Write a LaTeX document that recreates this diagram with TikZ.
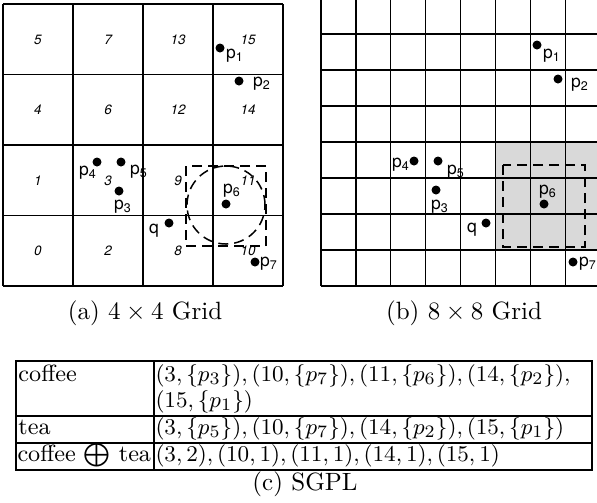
\documentclass[tikz,border=0pt]{standalone}
\usepackage{amsmath,amssymb}
\usepackage{fontspec}
\newfontfamily\helv{TeX Gyre Heros}
\usetikzlibrary{positioning}

\tikzset{
  cellno/.style={font=\helv\fontsize{5.4}{6}\selectfont\itshape,inner sep=0pt},
  ptlab/.style={font=\helv\fontsize{7}{8}\selectfont,inner sep=0pt},
  ptdot/.style={fill,circle,inner sep=0pt,minimum size=3.6pt},
  qbox/.style={dash pattern=on 4pt off 2.4pt,line width=0.6pt},
  txt/.style={inner sep=0pt,anchor=base west,font=\fontsize{9.4}{11}\selectfont}
}

\begin{document}
\begin{tikzpicture}[x=0.4pt,y=-0.4pt]
\useasboundingbox (0,0) rectangle (597,502);

% (a) 4x4 grid
\foreach \i in {0,...,4}{
  \draw[line width=0.7pt] ({3+70*\i},4) -- ({3+70*\i},286);
  \draw[line width=0.7pt] (3,{4+70.5*\i}) -- (283,{4+70.5*\i});
}
\foreach \n/\c/\r in {5/0/0,7/1/0,13/2/0,15/3/0,4/0/1,6/1/1,12/2/1,14/3/1,
                      1/0/2,3/1/2,9/2/2,11/3/2,0/0/3,2/1/3,8/2/3,10/3/3}
  \node[cellno] (c\n) at ({38+70*\c},{39.5+70.5*\r}) {\n};

\draw[qbox] (186,166) rectangle (266,246);
\draw[qbox] (226,205) circle[radius=15.6pt];

\node[ptdot] (a1) at (220,48) {};  \node[ptlab] (la1) at (235,56) {p\textsubscript{1}};
\node[ptdot] (a2) at (239,81) {};  \node[ptlab] (la2) at (262,84) {p\textsubscript{2}};
\node[ptdot] (a3) at (119,191) {}; \node[ptlab] (la3) at (123,207) {p\textsubscript{3}};
\node[ptdot] (a4) at (97,162) {};  \node[ptlab] (la4) at (88,173) {p\textsubscript{4}};
\node[ptdot] (a5) at (121,162) {}; \node[ptlab] (la5) at (139,172) {p\textsubscript{5}};
\node[ptdot] (a6) at (226,204) {}; \node[ptlab] (la6) at (232,191) {p\textsubscript{6}};
\node[ptdot] (a7) at (255,262) {}; \node[ptlab] (la7) at (269,264) {p\textsubscript{7}};
\node[ptdot] (aq) at (169,223) {}; \node[ptlab] (laq) at (154,231) {q};

\node (capa) at (145,313) {(a) $4\times4$ Grid};

% (b) 8x8 grid
\fill[black!15] (495.5,142) rectangle (600.2,250);
\foreach \i in {0,...,8}{
  \draw[line width=0.5pt] ({321+34.9*\i},-2) -- ({321+34.9*\i},286);
  \draw[line width=0.5pt] (321,{-2+36*\i}) -- (600.2,{-2+36*\i});
}
\draw[qbox] (503,165) rectangle (585,247);

\node[ptdot] (b1) at (537,45) {};  \node[ptlab] (lb1) at (552,56) {p\textsubscript{1}};
\node[ptdot] (b2) at (558,79) {};  \node[ptlab] (lb2) at (580,85) {p\textsubscript{2}};
\node[ptdot] (b3) at (436,190) {}; \node[ptlab] (lb3) at (440,207) {p\textsubscript{3}};
\node[ptdot] (b4) at (414,161) {}; \node[ptlab] (lb4) at (401,165) {p\textsubscript{4}};
\node[ptdot] (b5) at (438,161) {}; \node[ptlab] (lb5) at (456,172) {p\textsubscript{5}};
\node[ptdot] (b6) at (544,204) {}; \node[ptlab] (lb6) at (548,192) {p\textsubscript{6}};
\node[ptdot] (b7) at (573,262) {}; \node[ptlab] (lb7) at (588,264) {p\textsubscript{7}};
\node[ptdot] (bq) at (486,223) {}; \node[ptlab] (lbq) at (472,230) {q};

\node (capb) at (464,313) {(b) $8\times8$ Grid};

% (c) SGPL table
\draw[line width=0.5pt] (16,361) rectangle (592,470);
\draw[line width=0.5pt] (16,416) -- (592,416) (16,443) -- (592,443);
\draw[line width=0.5pt] (154,361) -- (154,470);
\node[txt] (k1) at (18,381) {coffee};
\node[txt] (v1) at (155,381) {$(3,\{p_3\}),(10,\{p_7\}),(11,\{p_6\}),(14,\{p_2\}),$};
\node[txt] (v1b) at (155,407) {$(15,\{p_1\})$};
\node[txt] (k2) at (18,434) {tea};
\node[txt] (v2) at (155,434) {$(3,\{p_5\}),(10,\{p_7\}),(14,\{p_2\}),(15,\{p_1\})$};
\node[txt] (k3) at (17,461) {coffee $\bigoplus$ tea};
\node[txt] (v3) at (155,461) {$(3,2),(10,1),(11,1),(14,1),(15,1)$};
\node (capc) at (305,484) {(c) SGPL};
\end{tikzpicture}
\end{document}
